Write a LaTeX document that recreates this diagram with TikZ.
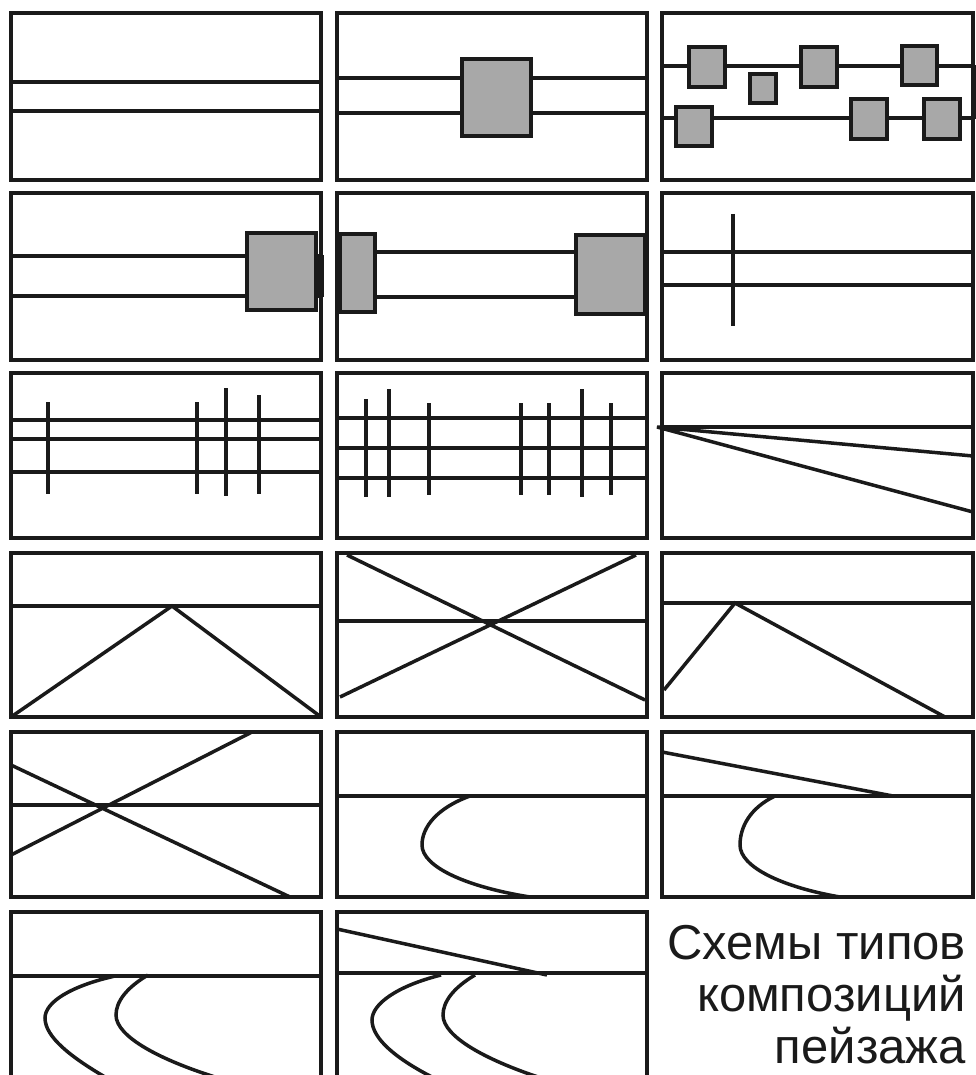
\documentclass[tikz,border=0pt]{standalone}
\usepackage{fontspec}
\setmainfont{Liberation Sans}
\definecolor{blockgray}{HTML}{A8A8A8}
\definecolor{ink}{HTML}{1A1A1A}

\begin{document}
\begin{tikzpicture}[x=1pt,y=-1pt]
        \tikzset{frame/.style={draw=ink, line width=4pt},
        horizon/.style={draw=ink, line width=3.5pt},
        block/.style={draw=ink, fill=blockgray, line width=4pt},
        stroke/.style={draw=ink, line width=3.5pt}}
        \useasboundingbox (0,0) rectangle (976,1075);
        \clip (0,0) rectangle (976,1075);
        % row 1
        \begin{scope}[shift={(11,13)}]
        \draw[frame] (0,0) rectangle (310,167);
        \draw[horizon] (0,69) -- (310,69) (0,98) -- (310,98);
        \end{scope}
        \begin{scope}[shift={(337,13)}]
        \draw[frame] (0,0) rectangle (310,167);
        \draw[horizon] (0,65) -- (310,65) (0,100) -- (310,100);
        \draw[block] (125,46) rectangle (194,123);
        \end{scope}
        \begin{scope}[shift={(662,13)}]
        \draw[frame] (0,0) rectangle (311,167);
        \draw[horizon] (0,53) -- (311,53) (0,105) -- (311,105);
        \draw[ink, line width=6pt] (312,52) -- (312,106);
        \draw[block] (27,34) rectangle (63,74);
        \draw[block] (88,61) rectangle (114,90);
        \draw[block] (139,34) rectangle (175,74);
        \draw[block] (240,33) rectangle (275,72);
        \draw[block] (14,94) rectangle (50,133);
        \draw[block] (189,86) rectangle (225,126);
        \draw[block] (262,86) rectangle (298,126);
        \end{scope}
        % row 2
        \begin{scope}[shift={(11,193)}]
        \draw[frame] (0,0) rectangle (310,167);
        \draw[horizon] (0,63) -- (310,63) (0,103) -- (310,103);
        \draw[block] (236,40) rectangle (305,117);
        \fill[ink] (305,62) rectangle (313,104);
        \end{scope}
        \begin{scope}[shift={(337,193)}]
        \draw[frame] (0,0) rectangle (310,167);
        \draw[horizon] (0,59) -- (310,59) (0,104) -- (310,104);
        \draw[block] (3,41) rectangle (38,119);
        \draw[block] (239,42) rectangle (308,121);
        \end{scope}
        \begin{scope}[shift={(662,193)}]
        \draw[frame] (0,0) rectangle (311,167);
        \draw[horizon] (0,59) -- (311,59) (0,92) -- (311,92);
        \draw[stroke] (71,21) -- (71,133);
        \end{scope}
        % row 3
        \begin{scope}[shift={(11,373)}]
        \draw[frame] (0,0) rectangle (310,165);
        \foreach \y in {47,66,99}
          \draw[horizon] (0,\y) -- (310,\y);
        \foreach \x/\a/\b in {37/29/121, 186/29/121, 215/15/123, 248/22/121}
          \draw[stroke] (\x,\a) -- (\x,\b);
        \end{scope}
        \begin{scope}[shift={(337,373)}]
        \draw[frame] (0,0) rectangle (310,165);
        \foreach \y in {45,75,105}
          \draw[horizon] (0,\y) -- (310,\y);
        \foreach \x/\a/\b in {29/26/124, 52/16/124, 92/30/122, 184/30/122,
          212/30/122, 245/16/124, 274/30/122}
          \draw[stroke] (\x,\a) -- (\x,\b);
        \end{scope}
        \begin{scope}[shift={(662,373)}]
        \draw[frame] (0,0) rectangle (311,165);
        \draw[horizon] (0,54) -- (311,54);
        \draw[stroke] (311,83) -- (-5,54) -- (311,139);
        \end{scope}
        % row 4
        \begin{scope}[shift={(11,553)}]
        \draw[frame] (0,0) rectangle (310,164);
        \draw[horizon] (0,53) -- (310,53);
        \draw[stroke] (0,164) -- (161,53) -- (310,164);
        \end{scope}
        \begin{scope}[shift={(337,553)}]
        \draw[frame] (0,0) rectangle (310,164);
        \draw[horizon] (0,68) -- (310,68);
        \draw[stroke] (10,2) -- (308,147) (3,144) -- (299,2);
        \end{scope}
        \begin{scope}[shift={(662,553)}]
        \draw[frame] (0,0) rectangle (311,164);
        \draw[horizon] (0,50) -- (311,50);
        \draw[stroke] (2,137) -- (73,50) -- (283,164);
        \end{scope}
        % row 5
        \begin{scope}[shift={(11,732)}]
        \draw[frame] (0,0) rectangle (310,165);
        \draw[horizon] (0,73) -- (310,73);
        \draw[stroke] (0,33) -- (279,165) (0,123) -- (241,0);
        \end{scope}
        \begin{scope}[shift={(337,732)}]
        \draw[frame] (0,0) rectangle (310,165);
        \draw[horizon] (0,64) -- (310,64);
        \draw[stroke] (133,64) .. controls (100,76) and (85,95) .. (85,113)
          .. controls (85,135) and (130,155) .. (193,165);
        \end{scope}
        \begin{scope}[shift={(662,732)}]
        \draw[frame] (0,0) rectangle (311,165);
        \draw[horizon] (0,64) -- (311,64);
        \draw[stroke] (0,20) -- (231,64);
        \draw[stroke] (113,64) .. controls (88,76) and (78,95) .. (78,113)
          .. controls (78,135) and (120,155) .. (178,165);
        \end{scope}
        % row 6
        \begin{scope}[shift={(11,912)}]
        \draw[frame] (0,200) -- (0,0) -- (310,0) -- (310,200);
        \draw[horizon] (0,64) -- (310,64);
        \draw[stroke] (104,64) .. controls (60,74) and (34,90) .. (34,106)
          .. controls (34,125) and (60,145) .. (94,165);
        \draw[stroke] (137,63) .. controls (115,76) and (105,90) .. (105,103)
          .. controls (105,125) and (150,148) .. (204,165);
        \end{scope}
        \begin{scope}[shift={(337,912)}]
        \draw[frame] (0,200) -- (0,0) -- (310,0) -- (310,200);
        \draw[horizon] (0,61) -- (310,61);
        \draw[stroke] (0,17) -- (210,63);
        \draw[stroke] (104,63) .. controls (60,74) and (35,92) .. (35,108)
          .. controls (35,127) and (60,147) .. (95,165);
        \draw[stroke] (138,63) .. controls (116,76) and (106,90) .. (106,103)
          .. controls (106,125) and (150,148) .. (201,165);
        \end{scope}
        % caption
        \node[anchor=north east, align=right, inner sep=0pt,
          font=\fontsize{49}{52}\selectfont, text=ink] (caption)
          at (966,925) {Схемы типов\\композиций\\пейзажа};
    \end{tikzpicture}
\end{document}
